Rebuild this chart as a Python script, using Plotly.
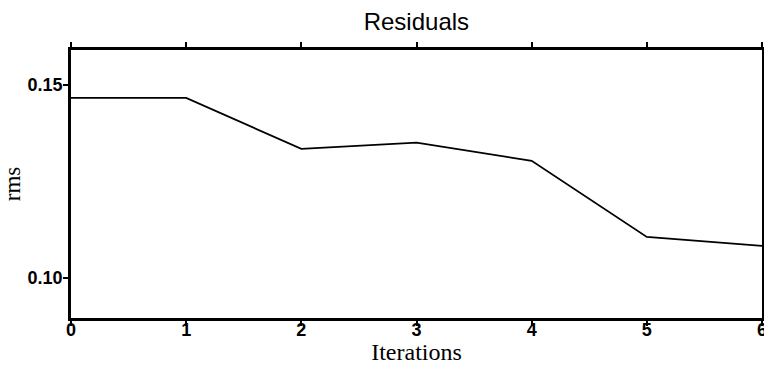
import plotly.graph_objects as go

iterations = [0, 1, 2, 3, 4, 5, 6]
rms = [0.1466, 0.1466, 0.1334, 0.1350, 0.1303, 0.1106, 0.1083]
y_ticks = [0.10, 0.15]
y_tick_labels = ["0.10", "0.15"]

fig = go.Figure()
fig.add_trace(go.Scatter(x=iterations, y=rms, mode="lines",
                         line=dict(color="black", width=1.8), showlegend=False))

fig.update_layout(
    width=764, height=365,
    margin=dict(l=71, r=2, t=50, b=47),
    paper_bgcolor="white", plot_bgcolor="white",
    title=dict(text="Residuals", x=0.545, xanchor="center", y=1 - 22 / 365, yanchor="middle",
               font=dict(family="Liberation Sans, Arial", size=24, color="black")),
)
fig.update_xaxes(
    range=[0, 6], tickvals=iterations, ticktext=[str(v) for v in iterations],
    automargin=False, ticklabeloverflow="allow", ticklabelstandoff=-11,
    showgrid=False, zeroline=False, showline=True, linecolor="black", linewidth=2.5,
    mirror="ticks", ticks="outside", ticklen=5, tickwidth=1.5, tickcolor="black",
    tickfont=dict(family="Liberation Sans, Arial", size=18, color="black", weight=600),
    title=dict(text="Iterations", standoff=9,
               font=dict(family="Liberation Serif, Times New Roman", size=24, color="black")),
)
fig.update_yaxes(
    range=[0.0896, 0.159], tickvals=y_ticks, ticktext=y_tick_labels,
    automargin=False, ticklabeloverflow="allow", ticklabelstandoff=-3,
    showgrid=False, zeroline=False, showline=True, linecolor="black", linewidth=2.5,
    mirror="ticks", ticks="outside", ticklen=5, tickwidth=1.5, tickcolor="black",
    tickfont=dict(family="Liberation Sans, Arial", size=18, color="black", weight=600),
    title=dict(text="rms", standoff=4,
               font=dict(family="Liberation Serif, Times New Roman", size=23, color="black")),
)

fig.write_html("out.html")
